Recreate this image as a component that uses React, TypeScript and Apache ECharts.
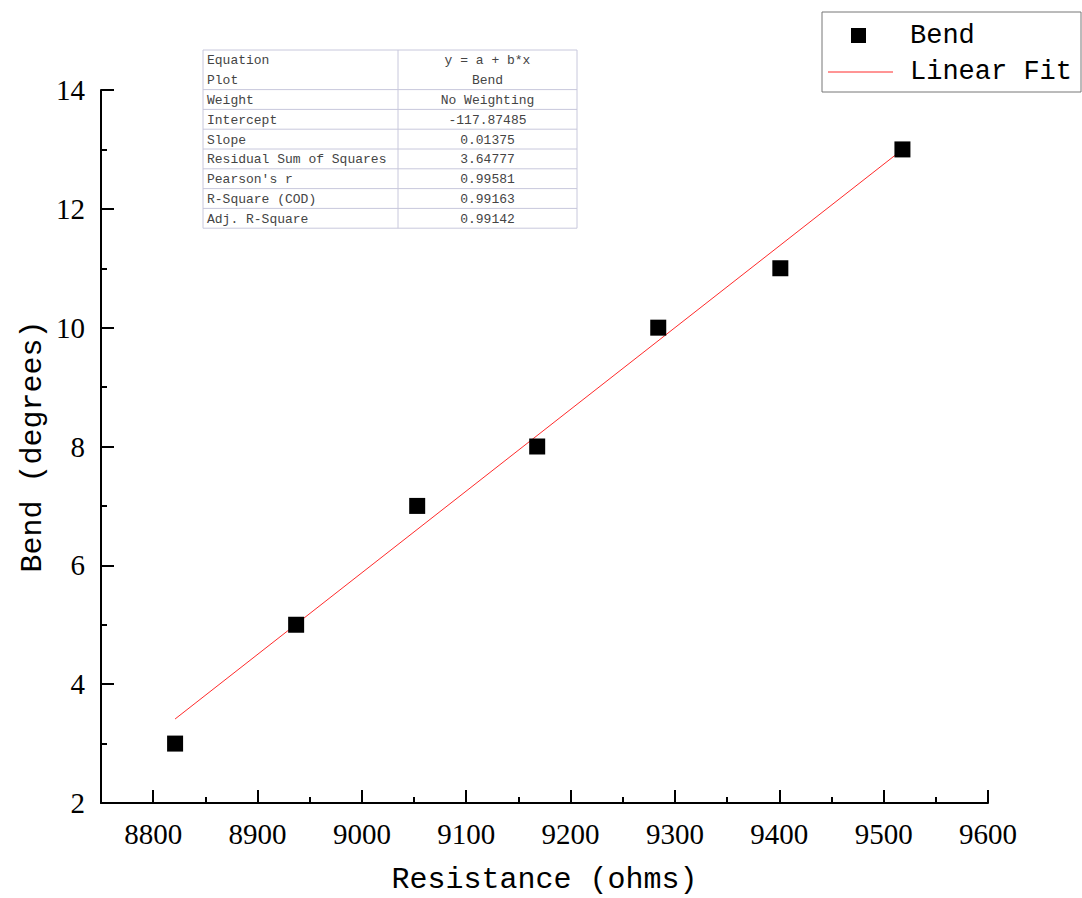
import React, { useEffect, useRef } from "react";
import * as echarts from "echarts";

const resistance = [8821, 8937, 9053, 9168, 9284, 9401, 9518];
const bend = [3, 5, 7, 8, 10, 11, 13];
const fitIntercept = -117.87485;
const fitSlope = 0.01375;
const xMajorTicks = [8800, 8900, 9000, 9100, 9200, 9300, 9400, 9500, 9600];
const xMinorTicks = [8850, 8950, 9050, 9150, 9250, 9350, 9450, 9550];
const tableLabels = [
  "Equation",
  "Plot",
  "Weight",
  "Intercept",
  "Slope",
  "Residual Sum of Squares",
  "Pearson's r",
  "R-Square (COD)",
  "Adj. R-Square",
];
const tableValues = [
  "y = a + b*x",
  "Bend",
  "No Weighting",
  "-117.87485",
  "0.01375",
  "3.64777",
  "0.99581",
  "0.99163",
  "0.99142",
];

const SERIF = "Liberation Serif";
const MONO = "Liberation Mono";

export default function App() {
  const ref = useRef<HTMLDivElement>(null);
  useEffect(() => {
    if (!ref.current) return;
    const chart = echarts.init(ref.current, undefined, { renderer: "svg" });

    const xs = [resistance[0], resistance[resistance.length - 1]];
    const fitLine = xs.map((x) => [x, fitIntercept + fitSlope * x]);

    const tX = 203, tY = 50, tW = 374, rowH = 19.8, colX = 398;
    const border = "#c8c8dc";
    const tableEls: any[] = [];
    tableEls.push({
      type: "rect",
      shape: { x: tX, y: tY, width: tW, height: rowH * tableLabels.length },
      style: { fill: "#fff", stroke: border, lineWidth: 1 },
    });
    tableEls.push({
      type: "line",
      shape: { x1: colX, y1: tY, x2: colX, y2: tY + rowH * tableLabels.length },
      style: { stroke: border, lineWidth: 1 },
    });
    for (let i = 2; i < tableLabels.length; i++) {
      tableEls.push({
        type: "line",
        shape: { x1: tX, y1: tY + rowH * i, x2: tX + tW, y2: tY + rowH * i },
        style: { stroke: border, lineWidth: 1 },
      });
    }
    tableLabels.forEach((lab, i) => {
      tableEls.push({
        type: "text",
        x: tX + 4,
        y: tY + rowH * (i + 0.5) + 1,
        style: {
          text: lab,
          fontFamily: MONO,
          fontSize: 13,
          fill: "#444",
          align: "left",
          verticalAlign: "middle",
        },
      });
      tableEls.push({
        type: "text",
        x: (colX + tX + tW) / 2,
        y: tY + rowH * (i + 0.5) + 1,
        style: {
          text: tableValues[i],
          fontFamily: MONO,
          fontSize: 13,
          fill: "#444",
          align: "center",
          verticalAlign: "middle",
        },
      });
    });

    const legendEls: any[] = [
      {
        type: "rect",
        shape: { x: 822, y: 12, width: 259, height: 80 },
        style: { fill: "#fff", stroke: "#777", lineWidth: 1 },
      },
      {
        type: "rect",
        shape: { x: 851, y: 28, width: 15, height: 15 },
        style: { fill: "#000" },
      },
      {
        type: "line",
        shape: { x1: 828, y1: 72, x2: 893, y2: 72 },
        style: { stroke: "#ff2a2a", lineWidth: 1 },
      },
      {
        type: "text",
        x: 910,
        y: 36,
        style: { text: "Bend", fontFamily: MONO, fontSize: 27, fill: "#000", verticalAlign: "middle" },
      },
      {
        type: "text",
        x: 910,
        y: 72,
        style: { text: "Linear Fit", fontFamily: MONO, fontSize: 27, fill: "#000", verticalAlign: "middle" },
      },
    ];

    const tickStyle = { color: "#000", width: 2 };

    chart.setOption({
      animation: false,
      backgroundColor: "#fff",
      textStyle: { fontFamily: SERIF },
      grid: { left: 101, right: 94, top: 90, bottom: 95, containLabel: false, outerBoundsMode: "none" },
      xAxis: [
        {
          type: "value",
          min: 8750,
          max: 9600,
          name: "Resistance (ohms)",
          nameLocation: "middle",
          nameGap: 62,
          nameMoveOverlap: false,
          nameTextStyle: { fontFamily: MONO, fontSize: 30, color: "#000" },
          axisLine: { show: true, lineStyle: { color: "#000", width: 2 } },
          axisTick: { show: true, inside: true, customValues: xMajorTicks, length: 13, lineStyle: tickStyle },
          axisLabel: {
            customValues: xMajorTicks,
            margin: 16,
            fontFamily: SERIF,
            fontSize: 29,
            color: "#000",
            formatter: (v: number) => String(v),
          },
          splitLine: { show: false },
        },
        {
          type: "value",
          min: 8750,
          max: 9600,
          position: "bottom",
          axisLine: { show: false },
          axisTick: { show: true, inside: true, customValues: xMinorTicks, length: 6, lineStyle: tickStyle },
          axisLabel: { show: false },
          splitLine: { show: false },
        },
      ],
      yAxis: {
        type: "value",
        min: 2,
        max: 14,
        interval: 2,
        name: "Bend (degrees)",
        nameLocation: "middle",
        nameGap: 53,
        nameMoveOverlap: false,
        nameTextStyle: { fontFamily: MONO, fontSize: 30, color: "#000" },
        axisLine: { show: true, lineStyle: { color: "#000", width: 2 } },
        axisTick: { show: true, inside: true, length: 13, lineStyle: tickStyle },
        minorTick: { show: true, splitNumber: 2, length: 6, lineStyle: tickStyle },
        axisLabel: { margin: 16, fontFamily: SERIF, fontSize: 29, color: "#000" },
        splitLine: { show: false },
        minorSplitLine: { show: false },
      },
      series: [
        {
          name: "Linear Fit",
          type: "line",
          data: fitLine,
          symbol: "none",
          lineStyle: { color: "#ff2a2a", width: 1 },
          z: 2,
        },
        {
          name: "Bend",
          type: "scatter",
          data: resistance.map((x, i) => [x, bend[i]]),
          symbol: "rect",
          symbolSize: 16,
          itemStyle: { color: "#000", opacity: 1 },
          z: 3,
        },
      ],
      graphic: [...tableEls, ...legendEls],
    });
    return () => chart.dispose();
  }, []);
  return (
    <div
      ref={ref}
      style={{ position: "fixed", left: 0, top: 0, width: 1082, height: 898 }}
    />
  );
}
